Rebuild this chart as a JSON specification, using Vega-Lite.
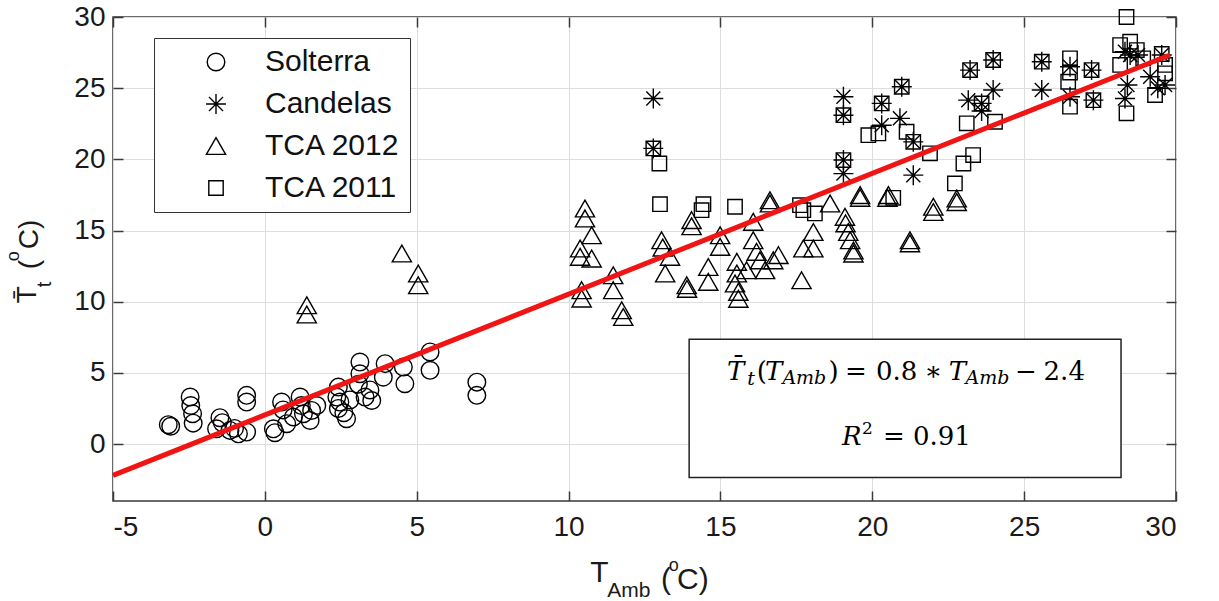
{
  "$schema": "https://vega.github.io/schema/vega-lite/v6.json",
  "width": 1063,
  "height": 484,
  "autosize": {"type": "none"},
  "padding": {"left": 113, "top": 17, "right": 43, "bottom": 100},
  "background": "white",
  "config": {
    "view": {"stroke": "#3a3a3a", "strokeWidth": 1.5},
    "axis": {
      "domain": false,
      "labelFont": "Liberation Sans",
      "labelFontSize": 28,
      "labelColor": "#1a1a1a",
      "labelExpr": "datum.value",
      "gridColor": "#dddddd",
      "gridWidth": 1,
      "tickColor": "#3a3a3a",
      "tickWidth": 1.5,
      "tickSize": -10
    },
    "legend": {
      "orient": "none",
      "legendX": 41,
      "legendY": 21,
      "strokeColor": "#333333",
      "fillColor": "white",
      "padding": 9,
      "labelFont": "Liberation Sans",
      "labelFontSize": 30,
      "labelColor": "#111111",
      "rowPadding": 12,
      "symbolOffset": 38,
      "labelOffset": 34,
      "symbolSize": 400,
      "symbolStrokeColor": "black",
      "symbolFillColor": "transparent",
      "symbolStrokeWidth": 1.4
    }
  },
  "datasets": {
    "obs": [
      {"site": "Solterra", "tamb": -3.18, "tt": 1.36},
      {"site": "Solterra", "tamb": -3.1, "tt": 1.25},
      {"site": "Solterra", "tamb": -2.46, "tt": 3.3},
      {"site": "Solterra", "tamb": -2.44, "tt": 2.71},
      {"site": "Solterra", "tamb": -2.38, "tt": 2.13},
      {"site": "Solterra", "tamb": -2.36, "tt": 1.47},
      {"site": "Solterra", "tamb": -1.59, "tt": 1.07},
      {"site": "Solterra", "tamb": -1.48, "tt": 1.85},
      {"site": "Solterra", "tamb": -1.4, "tt": 1.5},
      {"site": "Solterra", "tamb": -1.15, "tt": 0.96},
      {"site": "Solterra", "tamb": -1.0, "tt": 1.1},
      {"site": "Solterra", "tamb": -0.87, "tt": 0.72},
      {"site": "Solterra", "tamb": -0.6, "tt": 3.42},
      {"site": "Solterra", "tamb": -0.6, "tt": 2.95},
      {"site": "Solterra", "tamb": -0.6, "tt": 0.84},
      {"site": "Solterra", "tamb": 0.28, "tt": 1.07},
      {"site": "Solterra", "tamb": 0.33, "tt": 0.8},
      {"site": "Solterra", "tamb": 0.55, "tt": 2.95},
      {"site": "Solterra", "tamb": 0.6, "tt": 2.4},
      {"site": "Solterra", "tamb": 0.72, "tt": 1.43},
      {"site": "Solterra", "tamb": 0.94, "tt": 1.9},
      {"site": "Solterra", "tamb": 1.16, "tt": 3.3},
      {"site": "Solterra", "tamb": 1.2, "tt": 2.7},
      {"site": "Solterra", "tamb": 1.27, "tt": 2.13},
      {"site": "Solterra", "tamb": 1.49, "tt": 1.66},
      {"site": "Solterra", "tamb": 1.54, "tt": 2.36},
      {"site": "Solterra", "tamb": 1.71, "tt": 2.71},
      {"site": "Solterra", "tamb": 2.42, "tt": 4.0},
      {"site": "Solterra", "tamb": 2.37, "tt": 3.3},
      {"site": "Solterra", "tamb": 2.47, "tt": 2.95},
      {"site": "Solterra", "tamb": 2.42, "tt": 2.5},
      {"site": "Solterra", "tamb": 2.6, "tt": 2.2},
      {"site": "Solterra", "tamb": 2.69, "tt": 1.78},
      {"site": "Solterra", "tamb": 2.8, "tt": 3.1},
      {"site": "Solterra", "tamb": 3.13, "tt": 5.76},
      {"site": "Solterra", "tamb": 3.13, "tt": 4.94},
      {"site": "Solterra", "tamb": 3.08, "tt": 4.2},
      {"site": "Solterra", "tamb": 3.3, "tt": 3.3},
      {"site": "Solterra", "tamb": 3.46, "tt": 3.8},
      {"site": "Solterra", "tamb": 3.52, "tt": 3.06},
      {"site": "Solterra", "tamb": 3.96, "tt": 5.65},
      {"site": "Solterra", "tamb": 3.9, "tt": 4.7},
      {"site": "Solterra", "tamb": 4.56, "tt": 5.41},
      {"site": "Solterra", "tamb": 4.61, "tt": 4.24},
      {"site": "Solterra", "tamb": 5.44, "tt": 6.47},
      {"site": "Solterra", "tamb": 5.44, "tt": 5.18},
      {"site": "Solterra", "tamb": 6.98, "tt": 4.35},
      {"site": "Solterra", "tamb": 6.98, "tt": 3.42},

      {"site": "Candelas", "tamb": 12.79, "tt": 24.28},
      {"site": "Candelas", "tamb": 12.79, "tt": 20.77},
      {"site": "Candelas", "tamb": 19.05, "tt": 24.4},
      {"site": "Candelas", "tamb": 19.05, "tt": 23.1},
      {"site": "Candelas", "tamb": 19.05, "tt": 19.95},
      {"site": "Candelas", "tamb": 19.05, "tt": 19.0},
      {"site": "Candelas", "tamb": 20.31, "tt": 23.93},
      {"site": "Candelas", "tamb": 20.31, "tt": 22.4},
      {"site": "Candelas", "tamb": 20.97, "tt": 25.1},
      {"site": "Candelas", "tamb": 20.91, "tt": 22.88},
      {"site": "Candelas", "tamb": 21.35, "tt": 21.23},
      {"site": "Candelas", "tamb": 21.35, "tt": 18.89},
      {"site": "Candelas", "tamb": 23.22, "tt": 26.27},
      {"site": "Candelas", "tamb": 23.16, "tt": 24.16},
      {"site": "Candelas", "tamb": 23.6, "tt": 23.93},
      {"site": "Candelas", "tamb": 23.6, "tt": 23.4},
      {"site": "Candelas", "tamb": 23.98, "tt": 26.98},
      {"site": "Candelas", "tamb": 23.98, "tt": 24.87},
      {"site": "Candelas", "tamb": 25.58, "tt": 26.86},
      {"site": "Candelas", "tamb": 25.58, "tt": 24.87},
      {"site": "Candelas", "tamb": 26.51, "tt": 26.5},
      {"site": "Candelas", "tamb": 26.51, "tt": 24.4},
      {"site": "Candelas", "tamb": 27.22, "tt": 26.27},
      {"site": "Candelas", "tamb": 27.28, "tt": 24.16},
      {"site": "Candelas", "tamb": 28.32, "tt": 27.56},
      {"site": "Candelas", "tamb": 28.49, "tt": 27.33},
      {"site": "Candelas", "tamb": 28.75, "tt": 27.33},
      {"site": "Candelas", "tamb": 28.4, "tt": 25.22},
      {"site": "Candelas", "tamb": 28.32, "tt": 24.28},
      {"site": "Candelas", "tamb": 29.53, "tt": 27.33},
      {"site": "Candelas", "tamb": 29.64, "tt": 25.22},
      {"site": "Candelas", "tamb": 29.4, "tt": 24.99},
      {"site": "Candelas", "tamb": 29.15, "tt": 25.8},

      {"site": "TCA 2012", "tamb": 1.38, "tt": 9.75},
      {"site": "TCA 2012", "tamb": 1.38, "tt": 9.1},
      {"site": "TCA 2012", "tamb": 4.51, "tt": 13.39},
      {"site": "TCA 2012", "tamb": 5.05, "tt": 11.98},
      {"site": "TCA 2012", "tamb": 5.05, "tt": 11.16},
      {"site": "TCA 2012", "tamb": 10.54, "tt": 16.55},
      {"site": "TCA 2012", "tamb": 10.54, "tt": 15.85},
      {"site": "TCA 2012", "tamb": 10.76, "tt": 14.67},
      {"site": "TCA 2012", "tamb": 10.38, "tt": 13.74},
      {"site": "TCA 2012", "tamb": 10.38, "tt": 13.15},
      {"site": "TCA 2012", "tamb": 10.76, "tt": 13.03},
      {"site": "TCA 2012", "tamb": 10.43, "tt": 10.81},
      {"site": "TCA 2012", "tamb": 10.43, "tt": 10.22},
      {"site": "TCA 2012", "tamb": 11.47, "tt": 11.86},
      {"site": "TCA 2012", "tamb": 11.47, "tt": 10.81},
      {"site": "TCA 2012", "tamb": 11.75, "tt": 9.4},
      {"site": "TCA 2012", "tamb": 11.8, "tt": 8.93},
      {"site": "TCA 2012", "tamb": 13.06, "tt": 14.32},
      {"site": "TCA 2012", "tamb": 13.1, "tt": 13.8},
      {"site": "TCA 2012", "tamb": 13.18, "tt": 11.98},
      {"site": "TCA 2012", "tamb": 13.34, "tt": 13.15},
      {"site": "TCA 2012", "tamb": 14.05, "tt": 15.73},
      {"site": "TCA 2012", "tamb": 14.05, "tt": 15.3},
      {"site": "TCA 2012", "tamb": 13.89, "tt": 11.16},
      {"site": "TCA 2012", "tamb": 13.9, "tt": 10.9},
      {"site": "TCA 2012", "tamb": 14.6, "tt": 12.44},
      {"site": "TCA 2012", "tamb": 14.6, "tt": 11.39},
      {"site": "TCA 2012", "tamb": 14.99, "tt": 14.67},
      {"site": "TCA 2012", "tamb": 14.99, "tt": 13.85},
      {"site": "TCA 2012", "tamb": 15.54, "tt": 12.8},
      {"site": "TCA 2012", "tamb": 15.54, "tt": 11.98},
      {"site": "TCA 2012", "tamb": 15.48, "tt": 11.28},
      {"site": "TCA 2012", "tamb": 15.59, "tt": 10.69},
      {"site": "TCA 2012", "tamb": 15.59, "tt": 10.2},
      {"site": "TCA 2012", "tamb": 15.86, "tt": 12.21},
      {"site": "TCA 2012", "tamb": 16.08, "tt": 15.61},
      {"site": "TCA 2012", "tamb": 16.08, "tt": 14.32},
      {"site": "TCA 2012", "tamb": 16.19, "tt": 13.5},
      {"site": "TCA 2012", "tamb": 16.3, "tt": 12.9},
      {"site": "TCA 2012", "tamb": 16.47, "tt": 12.21},
      {"site": "TCA 2012", "tamb": 16.74, "tt": 12.91},
      {"site": "TCA 2012", "tamb": 16.91, "tt": 13.27},
      {"site": "TCA 2012", "tamb": 16.63, "tt": 17.13},
      {"site": "TCA 2012", "tamb": 16.63, "tt": 16.9},
      {"site": "TCA 2012", "tamb": 17.73, "tt": 13.74},
      {"site": "TCA 2012", "tamb": 18.06, "tt": 13.74},
      {"site": "TCA 2012", "tamb": 18.06, "tt": 14.9},
      {"site": "TCA 2012", "tamb": 17.67, "tt": 11.51},
      {"site": "TCA 2012", "tamb": 18.61, "tt": 16.9},
      {"site": "TCA 2012", "tamb": 19.1, "tt": 15.96},
      {"site": "TCA 2012", "tamb": 19.12, "tt": 15.5},
      {"site": "TCA 2012", "tamb": 19.21, "tt": 14.9},
      {"site": "TCA 2012", "tamb": 19.27, "tt": 14.32},
      {"site": "TCA 2012", "tamb": 19.38, "tt": 13.38},
      {"site": "TCA 2012", "tamb": 19.38, "tt": 13.6},
      {"site": "TCA 2012", "tamb": 19.6, "tt": 17.49},
      {"site": "TCA 2012", "tamb": 19.6, "tt": 17.3},
      {"site": "TCA 2012", "tamb": 20.53, "tt": 17.49},
      {"site": "TCA 2012", "tamb": 20.5, "tt": 17.3},
      {"site": "TCA 2012", "tamb": 21.24, "tt": 14.32},
      {"site": "TCA 2012", "tamb": 21.24, "tt": 14.1},
      {"site": "TCA 2012", "tamb": 22.01, "tt": 16.67},
      {"site": "TCA 2012", "tamb": 22.01, "tt": 16.3},
      {"site": "TCA 2012", "tamb": 22.78, "tt": 17.25},
      {"site": "TCA 2012", "tamb": 22.78, "tt": 17.0},

      {"site": "TCA 2011", "tamb": 12.79, "tt": 20.77},
      {"site": "TCA 2011", "tamb": 12.99, "tt": 19.71},
      {"site": "TCA 2011", "tamb": 13.01, "tt": 16.85},
      {"site": "TCA 2011", "tamb": 14.44, "tt": 16.85},
      {"site": "TCA 2011", "tamb": 14.38, "tt": 16.43},
      {"site": "TCA 2011", "tamb": 15.48, "tt": 16.67},
      {"site": "TCA 2011", "tamb": 17.62, "tt": 16.78},
      {"site": "TCA 2011", "tamb": 17.73, "tt": 16.43},
      {"site": "TCA 2011", "tamb": 18.11, "tt": 16.2},
      {"site": "TCA 2011", "tamb": 19.05, "tt": 23.1},
      {"site": "TCA 2011", "tamb": 19.05, "tt": 19.95},
      {"site": "TCA 2011", "tamb": 19.87, "tt": 21.7},
      {"site": "TCA 2011", "tamb": 20.2, "tt": 21.82},
      {"site": "TCA 2011", "tamb": 20.31, "tt": 23.93},
      {"site": "TCA 2011", "tamb": 20.69, "tt": 17.3},
      {"site": "TCA 2011", "tamb": 20.97, "tt": 25.1},
      {"site": "TCA 2011", "tamb": 21.13, "tt": 21.94},
      {"site": "TCA 2011", "tamb": 21.35, "tt": 21.23},
      {"site": "TCA 2011", "tamb": 21.9, "tt": 20.42},
      {"site": "TCA 2011", "tamb": 22.72, "tt": 18.31},
      {"site": "TCA 2011", "tamb": 23.0, "tt": 19.71},
      {"site": "TCA 2011", "tamb": 23.32, "tt": 20.3},
      {"site": "TCA 2011", "tamb": 23.11, "tt": 22.53},
      {"site": "TCA 2011", "tamb": 24.04, "tt": 22.64},
      {"site": "TCA 2011", "tamb": 23.22, "tt": 26.27},
      {"site": "TCA 2011", "tamb": 23.6, "tt": 23.93},
      {"site": "TCA 2011", "tamb": 23.98, "tt": 26.98},
      {"site": "TCA 2011", "tamb": 25.58, "tt": 26.86},
      {"site": "TCA 2011", "tamb": 26.51, "tt": 27.1},
      {"site": "TCA 2011", "tamb": 26.51, "tt": 26.1},
      {"site": "TCA 2011", "tamb": 26.45, "tt": 25.45},
      {"site": "TCA 2011", "tamb": 26.51, "tt": 23.7},
      {"site": "TCA 2011", "tamb": 27.22, "tt": 26.27},
      {"site": "TCA 2011", "tamb": 27.28, "tt": 24.16},
      {"site": "TCA 2011", "tamb": 28.37, "tt": 30.0},
      {"site": "TCA 2011", "tamb": 28.49, "tt": 28.27},
      {"site": "TCA 2011", "tamb": 28.16, "tt": 28.03},
      {"site": "TCA 2011", "tamb": 28.71, "tt": 27.68},
      {"site": "TCA 2011", "tamb": 28.92, "tt": 27.1},
      {"site": "TCA 2011", "tamb": 28.16, "tt": 26.63},
      {"site": "TCA 2011", "tamb": 28.37, "tt": 23.23},
      {"site": "TCA 2011", "tamb": 29.31, "tt": 24.52},
      {"site": "TCA 2011", "tamb": 29.53, "tt": 27.4},
      {"site": "TCA 2011", "tamb": 29.64, "tt": 26.63},
      {"site": "TCA 2011", "tamb": 29.64, "tt": 26.04}
    ],
    "fit": [
      {"tamb": -5, "fit": -2.2},
      {"tamb": 29.8, "fit": 27.33}
    ],
    "one": [{}]
  },
  "resolve": {"axis": {"x": "independent", "y": "independent"}},
  "layer": [
    {
      "data": {"name": "obs"},
      "mark": {"type": "point", "filled": false, "color": "black", "strokeWidth": 1.4, "opacity": 1, "size": 400},
      "encoding": {
        "x": {
          "field": "tamb", "type": "quantitative",
          "scale": {"domain": [-5, 30], "nice": false, "zero": false},
          "axis": {"orient": "bottom", "values": [-5, 0, 5, 10, 15, 20, 25, 30], "labelPadding": 22, "title": null, "grid": true}
        },
        "y": {
          "field": "tt", "type": "quantitative",
          "scale": {"domain": [-4, 30], "nice": false, "zero": false},
          "axis": {"orient": "left", "values": [0, 5, 10, 15, 20, 25, 30], "labelPadding": 18, "title": null, "grid": true}
        },
        "shape": {
          "field": "site", "type": "nominal",
          "scale": {
            "domain": ["Solterra", "Candelas", "TCA 2012", "TCA 2011"],
            "range": [
              "M0.88,0A0.88,0.88 0 1,1 -0.88,0A0.88,0.88 0 1,1 0.88,0Z",
              "M0,-1L0,1M-1,0L1,0M-0.7,-0.7L0.7,0.7M-0.7,0.7L0.7,-0.7",
              "M0,-0.84L0.96,0.84L-0.96,0.84Z",
              "M-0.72,-0.72L0.72,-0.72L0.72,0.72L-0.72,0.72Z"
            ]
          },
          "legend": {"title": null}
        }
      }
    },
    {
      "data": {"name": "fit"},
      "mark": {"type": "line", "color": "#f01414", "strokeWidth": 5},
      "encoding": {
        "x": {
          "field": "tamb", "type": "quantitative",
          "scale": {"domain": [-5, 30], "nice": false, "zero": false},
          "axis": {"orient": "top", "values": [-5, 0, 5, 10, 15, 20, 25, 30], "labels": false, "grid": false, "title": null}
        },
        "y": {
          "field": "fit", "type": "quantitative",
          "scale": {"domain": [-4, 30], "nice": false, "zero": false},
          "axis": {"orient": "right", "values": [0, 5, 10, 15, 20, 25, 30], "labels": false, "grid": false, "title": null}
        }
      }
    },
    {
      "data": {"name": "one"},
      "mark": {"type": "rect", "fill": "white", "stroke": "#222222", "strokeWidth": 1.5},
      "encoding": {
        "x": {"datum": 13.97, "type": "quantitative", "scale": {"domain": [-5, 30], "nice": false, "zero": false}, "axis": null},
        "x2": {"datum": 28.19},
        "y": {"datum": 7.36, "type": "quantitative", "scale": {"domain": [-4, 30], "nice": false, "zero": false}, "axis": null},
        "y2": {"datum": -2.35}
      }
    },
    {
      "data": {"name": "one"},
      "mark": {"type": "text", "text": "T̄", "font": "DejaVu Serif", "fontStyle": "italic", "fontSize": 26, "align": "left", "baseline": "alphabetic", "color": "black"},
      "encoding": {"x": {"datum": 15.22, "type": "quantitative", "axis": null}, "y": {"datum": 4.53, "type": "quantitative", "axis": null}}
    },
    {
      "data": {"name": "one"},
      "mark": {"type": "text", "text": "t", "font": "DejaVu Serif", "fontStyle": "italic", "fontSize": 19, "align": "left", "baseline": "alphabetic", "color": "black"},
      "encoding": {"x": {"datum": 15.88, "type": "quantitative", "axis": null}, "y": {"datum": 4.13, "type": "quantitative", "axis": null}}
    },
    {
      "data": {"name": "one"},
      "mark": {"type": "text", "text": "(", "font": "DejaVu Serif", "fontSize": 26, "align": "left", "baseline": "alphabetic", "color": "black"},
      "encoding": {"x": {"datum": 16.2, "type": "quantitative", "axis": null}, "y": {"datum": 4.53, "type": "quantitative", "axis": null}}
    },
    {
      "data": {"name": "one"},
      "mark": {"type": "text", "text": "T", "font": "DejaVu Serif", "fontStyle": "italic", "fontSize": 26, "align": "left", "baseline": "alphabetic", "color": "black"},
      "encoding": {"x": {"datum": 16.47, "type": "quantitative", "axis": null}, "y": {"datum": 4.53, "type": "quantitative", "axis": null}}
    },
    {
      "data": {"name": "one"},
      "mark": {"type": "text", "text": "Amb", "font": "DejaVu Serif", "fontStyle": "italic", "fontSize": 19, "align": "left", "baseline": "alphabetic", "color": "black"},
      "encoding": {"x": {"datum": 17.04, "type": "quantitative", "axis": null}, "y": {"datum": 4.25, "type": "quantitative", "axis": null}}
    },
    {
      "data": {"name": "one"},
      "mark": {"type": "text", "text": ")", "font": "DejaVu Serif", "fontSize": 26, "align": "left", "baseline": "alphabetic", "color": "black"},
      "encoding": {"x": {"datum": 18.56, "type": "quantitative", "axis": null}, "y": {"datum": 4.53, "type": "quantitative", "axis": null}}
    },
    {
      "data": {"name": "one"},
      "mark": {"type": "text", "text": "=", "font": "DejaVu Serif", "fontSize": 26, "align": "left", "baseline": "alphabetic", "color": "black"},
      "encoding": {"x": {"datum": 19.1, "type": "quantitative", "axis": null}, "y": {"datum": 4.53, "type": "quantitative", "axis": null}}
    },
    {
      "data": {"name": "one"},
      "mark": {"type": "text", "text": "0.8", "font": "DejaVu Serif", "fontSize": 26, "align": "left", "baseline": "alphabetic", "color": "black"},
      "encoding": {"x": {"datum": 20.12, "type": "quantitative", "axis": null}, "y": {"datum": 4.53, "type": "quantitative", "axis": null}}
    },
    {
      "data": {"name": "one"},
      "mark": {"type": "text", "text": "∗", "font": "DejaVu Serif", "fontSize": 26, "align": "left", "baseline": "alphabetic", "color": "black"},
      "encoding": {"x": {"datum": 21.72, "type": "quantitative", "axis": null}, "y": {"datum": 4.53, "type": "quantitative", "axis": null}}
    },
    {
      "data": {"name": "one"},
      "mark": {"type": "text", "text": "T", "font": "DejaVu Serif", "fontStyle": "italic", "fontSize": 26, "align": "left", "baseline": "alphabetic", "color": "black"},
      "encoding": {"x": {"datum": 22.52, "type": "quantitative", "axis": null}, "y": {"datum": 4.53, "type": "quantitative", "axis": null}}
    },
    {
      "data": {"name": "one"},
      "mark": {"type": "text", "text": "Amb", "font": "DejaVu Serif", "fontStyle": "italic", "fontSize": 19, "align": "left", "baseline": "alphabetic", "color": "black"},
      "encoding": {"x": {"datum": 23.07, "type": "quantitative", "axis": null}, "y": {"datum": 4.25, "type": "quantitative", "axis": null}}
    },
    {
      "data": {"name": "one"},
      "mark": {"type": "text", "text": "−", "font": "DejaVu Serif", "fontSize": 26, "align": "left", "baseline": "alphabetic", "color": "black"},
      "encoding": {"x": {"datum": 24.7, "type": "quantitative", "axis": null}, "y": {"datum": 4.53, "type": "quantitative", "axis": null}}
    },
    {
      "data": {"name": "one"},
      "mark": {"type": "text", "text": "2.4", "font": "DejaVu Serif", "fontSize": 26, "align": "left", "baseline": "alphabetic", "color": "black"},
      "encoding": {"x": {"datum": 25.64, "type": "quantitative", "axis": null}, "y": {"datum": 4.53, "type": "quantitative", "axis": null}}
    },
    {
      "data": {"name": "one"},
      "mark": {"type": "text", "text": "R", "font": "DejaVu Serif", "fontStyle": "italic", "fontSize": 26, "align": "left", "baseline": "alphabetic", "color": "black"},
      "encoding": {"x": {"datum": 19.0, "type": "quantitative", "axis": null}, "y": {"datum": -0.09, "type": "quantitative", "axis": null}}
    },
    {
      "data": {"name": "one"},
      "mark": {"type": "text", "text": "2", "font": "DejaVu Serif", "fontSize": 17, "align": "left", "baseline": "alphabetic", "color": "black"},
      "encoding": {"x": {"datum": 19.66, "type": "quantitative", "axis": null}, "y": {"datum": 0.73, "type": "quantitative", "axis": null}}
    },
    {
      "data": {"name": "one"},
      "mark": {"type": "text", "text": "=", "font": "DejaVu Serif", "fontSize": 26, "align": "left", "baseline": "alphabetic", "color": "black"},
      "encoding": {"x": {"datum": 20.35, "type": "quantitative", "axis": null}, "y": {"datum": -0.09, "type": "quantitative", "axis": null}}
    },
    {
      "data": {"name": "one"},
      "mark": {"type": "text", "text": "0.91", "font": "DejaVu Serif", "fontSize": 26, "align": "left", "baseline": "alphabetic", "color": "black"},
      "encoding": {"x": {"datum": 21.34, "type": "quantitative", "axis": null}, "y": {"datum": -0.09, "type": "quantitative", "axis": null}}
    },
    {
      "data": {"name": "one"},
      "mark": {"type": "text", "text": "T", "font": "Liberation Sans", "fontSize": 30, "align": "left", "baseline": "alphabetic", "color": "#1a1a1a"},
      "encoding": {"x": {"datum": 10.71, "type": "quantitative", "axis": null}, "y": {"datum": -9.72, "type": "quantitative", "axis": null}}
    },
    {
      "data": {"name": "one"},
      "mark": {"type": "text", "text": "Amb", "font": "Liberation Sans", "fontSize": 21, "align": "left", "baseline": "alphabetic", "color": "#1a1a1a"},
      "encoding": {"x": {"datum": 11.27, "type": "quantitative", "axis": null}, "y": {"datum": -10.71, "type": "quantitative", "axis": null}}
    },
    {
      "data": {"name": "one"},
      "mark": {"type": "text", "text": "(", "font": "Liberation Sans", "fontSize": 30, "align": "left", "baseline": "alphabetic", "color": "#1a1a1a"},
      "encoding": {"x": {"datum": 13.04, "type": "quantitative", "axis": null}, "y": {"datum": -10.15, "type": "quantitative", "axis": null}}
    },
    {
      "data": {"name": "one"},
      "mark": {"type": "text", "text": "o", "font": "Liberation Sans", "fontSize": 18, "align": "left", "baseline": "alphabetic", "color": "#1a1a1a"},
      "encoding": {"x": {"datum": 13.3, "type": "quantitative", "axis": null}, "y": {"datum": -8.95, "type": "quantitative", "axis": null}}
    },
    {
      "data": {"name": "one"},
      "mark": {"type": "text", "text": "C)", "font": "Liberation Sans", "fontSize": 30, "align": "left", "baseline": "alphabetic", "color": "#1a1a1a"},
      "encoding": {"x": {"datum": 13.57, "type": "quantitative", "axis": null}, "y": {"datum": -10.15, "type": "quantitative", "axis": null}}
    },
    {
      "data": {"name": "one"},
      "mark": {"type": "text", "text": "T̄", "font": "Liberation Sans", "fontSize": 28, "angle": 270, "align": "left", "baseline": "alphabetic", "color": "#1a1a1a"},
      "encoding": {"x": {"datum": -7.535, "type": "quantitative", "axis": null}, "y": {"datum": 9.89, "type": "quantitative", "axis": null}}
    },
    {
      "data": {"name": "one"},
      "mark": {"type": "text", "text": "t", "font": "Liberation Sans", "fontSize": 20, "angle": 270, "align": "left", "baseline": "alphabetic", "color": "#1a1a1a"},
      "encoding": {"x": {"datum": -7.04, "type": "quantitative", "axis": null}, "y": {"datum": 11.02, "type": "quantitative", "axis": null}}
    },
    {
      "data": {"name": "one"},
      "mark": {"type": "text", "text": "(", "font": "Liberation Sans", "fontSize": 28, "angle": 270, "align": "left", "baseline": "alphabetic", "color": "#1a1a1a"},
      "encoding": {"x": {"datum": -7.47, "type": "quantitative", "axis": null}, "y": {"datum": 12.28, "type": "quantitative", "axis": null}}
    },
    {
      "data": {"name": "one"},
      "mark": {"type": "text", "text": "o", "font": "Liberation Sans", "fontSize": 18, "angle": 270, "align": "left", "baseline": "alphabetic", "color": "#1a1a1a"},
      "encoding": {"x": {"datum": -8.1, "type": "quantitative", "axis": null}, "y": {"datum": 12.84, "type": "quantitative", "axis": null}}
    },
    {
      "data": {"name": "one"},
      "mark": {"type": "text", "text": "C)", "font": "Liberation Sans", "fontSize": 28, "angle": 270, "align": "left", "baseline": "alphabetic", "color": "#1a1a1a"},
      "encoding": {"x": {"datum": -7.47, "type": "quantitative", "axis": null}, "y": {"datum": 13.69, "type": "quantitative", "axis": null}}
    }
  ]
}
